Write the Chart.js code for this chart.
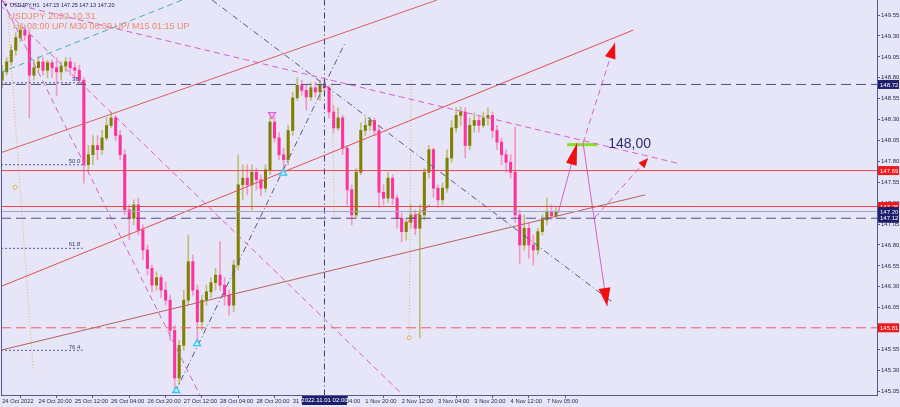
<!DOCTYPE html>
<html><head><meta charset="utf-8">
<script src="https://cdn.jsdelivr.net/npm/chart.js@4.4.0/dist/chart.umd.min.js"></script>
<style>html,body{margin:0;padding:0;background:#e6e6f8;overflow:hidden}canvas{display:block}</style>
</head><body>
<canvas id="c" width="900" height="407"></canvas>
<script>
// ---------- DATA ----------
const barIndex = [0,2,4,6,8,10,12,14,16,18,20,22,24,26,28,30,32,34,36,38,40,42,44,46,48,50,52,54,56,58,
60,62,64,66,68,70,72,74,76,78,80,82,84,86,88,90,92,94,96,98,100,102,104,106,108,110,112,114,116,118,
120,122,124,126,128,130,132,134,136,138,140,142,144,146,148,150,152,154,156,158,160,162,164,166,168,170,172,174,176,178,
180,182,184,186,188,190,192,194,196,198,200,202,204,206,208,210,212,214,216,218,220,222,224,226,228,230,232,234,236,238,240,242,244];
const opens = [
148.77,148.87,148.99,149.13,149.28,149.37,149.31,148.83,148.92,148.99,
148.89,148.98,148.92,148.87,148.94,148.99,148.92,148.89,148.77,147.76,
147.88,147.99,147.94,148.08,148.23,148.32,148.11,147.88,147.22,147.12,
147.28,146.98,146.74,146.52,146.32,146.41,146.26,146.14,145.78,145.21,
145.60,146.14,146.60,146.26,145.88,146.14,146.24,146.35,146.44,146.32,
146.20,146.08,146.56,147.52,147.60,147.52,147.67,147.58,147.48,147.70,
148.27,148.08,147.88,147.82,148.17,148.56,148.71,148.65,148.57,148.68,
148.63,148.71,148.68,148.39,148.20,148.32,147.96,147.46,147.16,147.67,
148.17,148.23,148.29,148.17,147.43,147.36,147.60,147.36,147.12,146.96,
147.07,147.16,147.00,147.16,147.67,147.94,147.48,147.34,147.48,147.84,
148.20,148.35,148.39,147.99,148.23,148.29,148.23,148.32,148.35,148.17,
148.03,147.88,147.79,147.67,147.16,146.80,147.00,146.80,146.74,146.96,
147.10,147.19,147.15];
const highs = [
148.95,149.04,149.19,149.34,149.43,149.43,149.37,149.01,149.05,149.04,
149.01,149.01,149.04,148.99,149.04,149.04,148.98,148.95,148.80,147.99,
148.11,148.11,148.17,148.32,148.39,148.35,148.17,147.94,147.28,147.34,
147.36,147.04,146.80,146.56,146.48,146.44,146.36,146.20,145.84,145.66,
146.26,146.92,146.68,146.32,146.20,146.32,146.41,146.52,146.84,146.41,
146.26,146.62,147.88,147.76,147.76,147.76,147.72,147.64,147.76,148.33,
148.33,148.14,147.96,148.23,148.63,148.80,148.77,148.71,148.74,148.75,
148.77,148.77,148.71,148.47,148.44,148.35,147.99,147.52,147.72,148.26,
148.32,148.33,148.32,148.23,147.52,147.67,147.64,147.40,147.18,147.12,
147.28,147.22,147.28,147.72,147.99,147.96,147.52,147.54,147.94,148.29,
148.44,148.45,148.44,148.32,148.38,148.35,148.39,148.44,148.39,148.23,
148.08,147.94,147.88,148.21,147.22,147.16,147.07,146.92,147.00,147.16,
147.36,147.28,147.25];
const lows = [
148.68,148.83,148.95,149.07,149.23,149.25,148.32,148.77,148.87,148.83,
148.80,148.80,148.59,148.77,148.87,148.83,148.80,148.73,147.54,147.70,
147.76,147.82,147.88,148.05,148.20,148.05,147.82,147.16,146.86,147.04,
146.92,146.62,146.44,146.24,146.26,146.17,146.08,145.66,145.04,145.13,
145.54,146.08,146.20,145.63,145.78,146.08,146.17,146.26,146.26,146.08,
145.96,146.00,146.50,147.34,147.40,147.22,147.46,147.39,147.43,147.64,
148.03,147.82,147.67,147.76,148.11,148.53,148.59,148.41,148.53,148.57,
148.53,148.63,148.32,148.14,148.17,147.88,147.28,147.04,147.12,147.64,
148.11,148.17,148.11,147.25,147.28,147.31,147.28,147.00,146.84,146.86,
147.00,146.92,145.69,147.10,147.60,147.37,147.25,147.28,147.43,147.79,
148.15,148.23,147.84,147.94,148.15,148.15,148.20,148.23,148.08,147.94,
147.76,147.67,147.60,147.07,146.58,146.74,146.64,146.56,146.68,146.92,
147.04,147.10,147.13];
const closes = [
148.87,148.99,149.13,149.28,149.37,149.31,148.83,148.92,148.99,148.89,
148.98,148.92,148.87,148.94,148.99,148.92,148.89,148.77,147.76,147.88,
147.99,147.94,148.08,148.23,148.32,148.11,147.88,147.22,147.12,147.28,
146.98,146.74,146.52,146.32,146.41,146.26,146.14,145.78,145.21,145.60,
146.14,146.60,146.26,145.88,146.14,146.24,146.35,146.44,146.32,146.20,
146.08,146.56,147.52,147.60,147.52,147.67,147.58,147.48,147.70,148.27,
148.08,147.88,147.82,148.17,148.56,148.71,148.65,148.57,148.68,148.63,
148.71,148.68,148.39,148.20,148.32,147.96,147.46,147.16,147.67,148.17,
148.23,148.29,148.17,147.43,147.36,147.60,147.36,147.12,146.96,147.07,
147.16,147.00,147.16,147.67,147.94,147.48,147.34,147.48,147.84,148.20,
148.35,148.39,147.99,148.23,148.29,148.23,148.32,148.35,148.17,148.03,
147.88,147.79,147.67,147.16,146.80,147.00,146.80,146.74,146.96,147.10,
147.19,147.15,147.20];

const yTicks = [145.05,145.30,145.55,145.80,146.05,146.30,146.55,146.80,147.05,147.30,147.55,147.80,148.05,148.30,148.55,148.80,149.05,149.30,149.55];
const xTickBars = [0,16,32,48,64,80,96,112,128,144,160,176,192,208,224,240];
const xTickLabels = ['24 Oct 2022','24 Oct 20:00','25 Oct 12:00','26 Oct 04:00','26 Oct 20:00','27 Oct 12:00','28 Oct 04:00','28 Oct 20:00','31 Oct 12:00','1 Nov 04:00','1 Nov 20:00','2 Nov 12:00','3 Nov 04:00','3 Nov 20:00','4 Nov 12:00','7 Nov 05:00'];

const levelPrices = [148.72, 147.69, 147.26, 147.20, 147.12, 145.81];
const fibPrices = [148.74, 147.76, 146.76, 145.54];
const fibLabels = ['38.', '50.0', '61.8', '76.4'];

const tealLine   = [[-0.9,148.86],[79.3,149.73]];
const redLineA   = [[-0.9,147.90],[191.6,149.73]];
const redLineB   = [[-0.9,146.30],[278.0,149.37]];
const redLineC   = [[-0.9,145.54],[283.3,147.40]];
const redShort   = [[178.4,147.07],[188.5,147.28]];
const pinkSteep  = [[0,149.73],[87.2,145.0]];
const pinkMid    = [[-0.9,149.67],[175.3,145.04]];
const pinkTop    = [[-0.9,149.72],[298.7,147.77]];
const navyDown   = [[92.5,149.73],[268.7,146.12]];
const navyUp     = [[76.2,145.04],[151.1,149.22]];
const timeLine   = [[142,145.0],[142,149.73]];
const orange1    = [[2.6,149.49],[13.7,145.30]];
const orange2    = [[145.4,148.74],[146.3,147.13]];
const orange3    = [[180.2,148.77],[179.3,145.69]];
const projUp     = [[244.9,147.18],[253.3,148.02]];
const projDown   = [[255.9,148.02],[266.5,146.07]];
const projDashUp = [[255.9,148.02],[270.0,149.22]];
const projDashSm = [[261.2,147.13],[284.6,147.84]];
const targetLine = [[248.9,148.00],[262.1,148.00]];
const targetText = '148,00';
const targetTextPos = [267.0,148.01];

const arrowHeads = [
  [[253.3,148.02],[244.9,147.18]],
  [[266.5,146.07],[255.9,148.02]],
  [[270.0,149.22],[255.9,148.02]],
  [[284.6,147.84],[261.2,147.13]]
];
const upSignals = [[76.7,145.06],[85.9,145.62],[123.8,147.66]];
const downSignals = [[118.9,148.36]];
const dotMarks = [[5.7,147.49],[179.3,145.69]];

const titleSmall = '\u25BC USDJPY,H1  147.15 147.25 147.13 147.20';
const titleLine1 = 'USDJPY 2022.10.31';
const titleLine2 = 'H1 08:00 UP/ M30 08:30 UP/ M15 01:15 UP';
const dateBoxBar = 142;
const dateBoxText = '2022.11.01 02:00';

// ---------- STYLE ----------
const BG = '#e6e6f8';
const X_MIN = -0.5, X_MAX = 385.4, Y_MIN = 145.006, Y_MAX = 149.73;
const bull = 'rgb(128,128,0)', bear = 'rgb(255,50,155)';
const bullWick = 'rgb(190,190,120)', bearWick = 'rgb(245,150,195)';
const FONT = "'Liberation Sans', Arial, sans-serif";

const pts = a => a.map(p => ({x:p[0], y:p[1]}));
const lineDS = (arr, color, width, dash) => ({
  type:'line', data: pts(arr), borderColor: color, borderWidth: width,
  borderDash: dash || [], pointRadius: 0, fill: false, tension: 0, order: 1
});
const levelStyles = [
  ['#50508c',1,[10,5]], ['#e84848',1,[]], ['#e84848',1,[]],
  ['#a4a4c0',1,[]], ['#50508c',1,[10,5]], ['#e86464',1,[10,5]]
];
const levelColorsBox = ['#1e1e6e','#f01818','#f01818','#1e1e6e','#1e1e6e','#f01818'];

const datasets = [];
datasets.push({
  type:'bar', grouped:false, order: 20, barThickness: 1,
  data: barIndex.map((b,i) => ({x:b, y:[lows[i], highs[i]]})),
  backgroundColor: barIndex.map((b,i) => closes[i] >= opens[i] ? bullWick : bearWick)
});
datasets.push({
  type:'bar', grouped:false, order: 19, barThickness: 2.4,
  data: barIndex.map((b,i) => ({x:b, y:[opens[i], closes[i]]})),
  backgroundColor: barIndex.map((b,i) => closes[i] >= opens[i] ? bull : bear)
});
levelPrices.forEach((p,i) => {
  const s = levelStyles[i];
  datasets.push(lineDS([[X_MIN,p],[X_MAX,p]], s[0], s[1], s[2]));
});
fibPrices.forEach(p => datasets.push(lineDS([[X_MIN,p],[35.5,p]], '#5a5a96', 1, [2,2])));
datasets.push(lineDS(tealLine, '#4aa8c0', 1, [6,4]));
datasets.push(lineDS(redLineA, '#d86060', 1));
datasets.push(lineDS(redLineB, '#e05050', 1));
datasets.push(lineDS(redLineC, '#b86060', 1));
datasets.push(lineDS(redShort, '#e05050', 1));
datasets.push(lineDS(pinkSteep, '#d860c8', 1, [6,4]));
datasets.push(lineDS(pinkMid, '#d860c8', 1, [6,4]));
datasets.push(lineDS(pinkTop, '#d860c8', 1, [6,4]));
datasets.push(lineDS(navyDown, '#555590', 1, [6,3,1,3]));
datasets.push(lineDS(navyUp, '#555590', 1, [6,3,1,3]));
datasets.push(lineDS(timeLine, '#3c3c78', 1, [6,3,1,3]));
datasets.push(lineDS(orange1, '#e8b060', 1, [1,2]));
datasets.push(lineDS(orange2, '#e8b060', 1, [1,2]));
datasets.push(lineDS(orange3, '#e8b060', 1, [1,2]));
datasets.push(lineDS(projUp, '#d860c8', 1));
datasets.push(lineDS(projDown, '#d860c8', 1));
datasets.push(lineDS(projDashUp, '#d860c8', 1, [6,4]));
datasets.push(lineDS(projDashSm, '#d860c8', 1, [6,4]));
datasets.push(lineDS(targetLine, '#88e020', 3));
datasets.push({type:'line', showLine:false, data: pts(upSignals), pointStyle:'triangle', pointRadius:4,
  borderColor:'#30c8ec', backgroundColor:'rgba(200,245,255,0.8)', borderWidth:1.3, order:0});
datasets.push({type:'line', showLine:false, data: pts(downSignals), pointStyle:'triangle', rotation:180, pointRadius:4,
  borderColor:'#e060d0', backgroundColor:'rgba(250,220,245,0.8)', borderWidth:1.3, order:0});
datasets.push({type:'line', showLine:false, data: pts(dotMarks), pointStyle:'circle', pointRadius:2,
  borderColor:'#e8b060', backgroundColor:'rgba(0,0,0,0)', borderWidth:1, order:0});

const decor = {
  id:'decor',
  beforeDraw(chart){
    const c = chart.ctx; c.save(); c.fillStyle = BG; c.fillRect(0,0,chart.width,chart.height); c.restore();
  },
  afterDraw(chart){
    const c = chart.ctx, xs = chart.scales.x, ys = chart.scales.y, a = chart.chartArea;
    c.save();
    c.strokeStyle = '#5a5a88'; c.lineWidth = 1;
    c.beginPath(); c.moveTo(a.left+0.5, a.top); c.lineTo(a.left+0.5, a.bottom); c.stroke();
    const sizes = [[22,5.5],[18,6],[16,5.5],[10,4]];
    c.fillStyle = '#ee1010';
    arrowHeads.forEach((ah,i) => {
      const tx = xs.getPixelForValue(ah[0][0]), ty = ys.getPixelForValue(ah[0][1]);
      const fx = xs.getPixelForValue(ah[1][0]), fy = ys.getPixelForValue(ah[1][1]);
      let dx = tx-fx, dy = ty-fy; const L = Math.hypot(dx,dy); dx/=L; dy/=L;
      const [len,hw] = sizes[i];
      const bx = tx-dx*len, by = ty-dy*len;
      c.beginPath(); c.moveTo(tx,ty); c.lineTo(bx-dy*hw, by+dx*hw); c.lineTo(bx+dy*hw, by-dx*hw); c.closePath(); c.fill();
    });
    c.fillStyle = '#2c2c70'; c.font = '14px ' + FONT; c.textBaseline = 'middle'; c.textAlign = 'left';
    c.fillText(targetText, xs.getPixelForValue(targetTextPos[0]), ys.getPixelForValue(targetTextPos[1]));
    c.font = '6px ' + FONT; c.fillStyle = '#3a3a70'; c.textAlign = 'right'; c.textBaseline = 'bottom';
    fibPrices.forEach((p,i) => c.fillText(fibLabels[i], xs.getPixelForValue(34.5), ys.getPixelForValue(p)-0.5));
    c.textAlign = 'left'; c.textBaseline = 'middle';
    c.font = '5.5px ' + FONT; c.fillStyle = '#1e1e5a';
    c.fillText(titleSmall, 3, 5);
    c.font = '9.5px ' + FONT; c.fillStyle = '#f08a6c';
    c.fillText(titleLine1, 8, 16);
    c.font = '9px ' + FONT;
    c.fillText(titleLine2, 13, 26.5);
    c.font = '6px ' + FONT; c.textAlign = 'left';
    levelPrices.forEach((p,i) => {
      const y = ys.getPixelForValue(p);
      c.fillStyle = levelColorsBox[i]; c.fillRect(878, y-4.5, 21, 9);
      c.fillStyle = '#ffffff'; c.fillText(p.toFixed(2), 880, y+0.5);
    });
    const dx = xs.getPixelForValue(dateBoxBar);
    c.fillStyle = '#1e1e6e'; c.fillRect(dx-22.5, 396, 45, 9);
    c.fillStyle = '#ffffff'; c.textAlign = 'center'; c.font = '6px ' + FONT;
    c.fillText(dateBoxText, dx, 400.8);
    c.restore();
  }
};

new Chart(document.getElementById('c'), {
  type:'bar',
  data:{ datasets },
  plugins:[decor],
  options:{
    responsive:false, animation:false, devicePixelRatio:1, events:[],
    layout:{ autoPadding:false, padding:{left:1, top:0, right:0, bottom:0} },
    plugins:{ legend:{display:false}, tooltip:{enabled:false} },
    scales:{
      x:{ type:'linear', min:X_MIN, max:X_MAX, offset:false, position:'bottom',
        grid:{ display:true, drawOnChartArea:false, drawTicks:true, tickLength:3, color:'#5a5a88' },
        border:{ display:true, color:'#5a5a88' },
        ticks:{ autoSkip:false, maxRotation:0, minRotation:0, align:'start', padding:0,
          font:{ size:5.8, family:FONT }, color:'#2a2a50',
          callback:(v) => { const k = xTickBars.indexOf(v); return k >= 0 ? xTickLabels[k] : ''; } },
        afterBuildTicks:(s) => { s.ticks = xTickBars.map(v => ({value:v})); },
        afterFit:(s) => { s.height = 12; s.paddingLeft = 0; s.paddingRight = 0; }
      },
      y:{ type:'linear', position:'right', min:Y_MIN, max:Y_MAX,
        grid:{ display:true, drawOnChartArea:false, drawTicks:true, tickLength:3, color:'#5a5a88' },
        border:{ display:true, color:'#5a5a88' },
        ticks:{ padding:1, font:{ size:6, family:FONT }, color:'#2a2a50',
          callback:(v) => Number(v).toFixed(2) },
        afterBuildTicks:(s) => { s.ticks = yTicks.map(v => ({value:v})); },
        afterFit:(s) => { s.width = 23; s.paddingTop = 0; s.paddingBottom = 0; }
      }
    }
  }
});
</script>
</body></html>
